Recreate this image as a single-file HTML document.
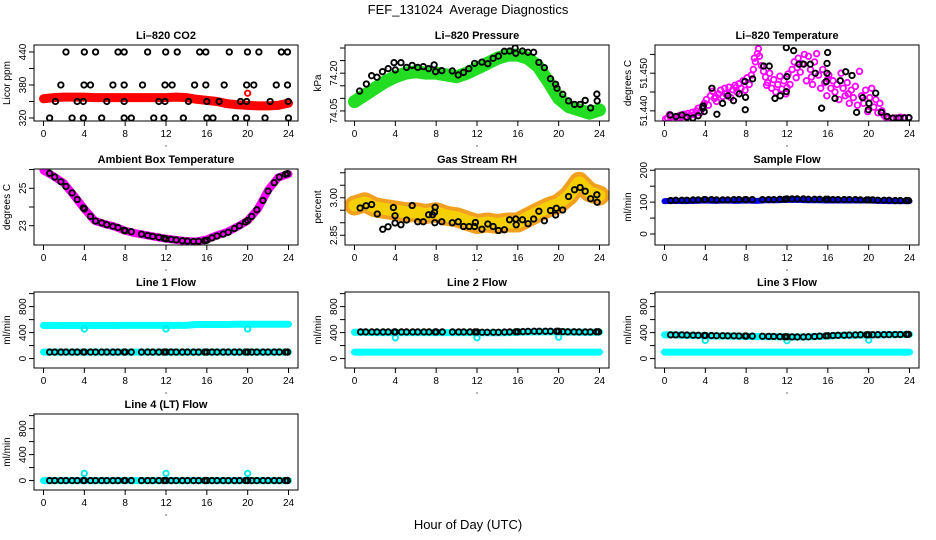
<!DOCTYPE html>
<html><head><meta charset="utf-8"><style>
html,body{margin:0;padding:0;background:#fff;}
svg{display:block;font-family:"Liberation Sans",sans-serif;}
</style></head><body>
<svg id="chart" width="936" height="540" viewBox="0 0 936 540" xmlns="http://www.w3.org/2000/svg">
<text x="468" y="14" font-size="13" text-anchor="middle">FEF_131024&#160; Average Diagnostics</text>
<text x="468" y="529" font-size="13" text-anchor="middle">Hour of Day (UTC)</text>
</svg>
<script>
// ---- shared data ----
const xTicks = [0,4,8,12,16,20,24];
const bandHours = [0,1,2,3,4,5,6,7,8,9,10,11,12,13,14,15,16,17,18,19,20,21,22,23,24];
const avgHours = [0.6,1.1,1.7,2.2,2.8,3.3,3.9,4.0,4.6,5.1,5.7,6.2,6.8,7.3,7.9,8.0,8.6,9.6,10.2,10.7,11.3,11.8,12.0,12.5,13.0,13.6,14.1,14.7,15.2,15.8,16.0,16.5,17.0,17.6,18.1,18.7,19.2,19.8,20.0,20.4,20.9,21.5,22.0,22.6,23.1,23.7,23.9];
const dipHours = [4,12,20];

// CO2
const co2Band = [355,357,358,358,358,357,357,357,357,357,357,357,357,358,357,354,352,350,346,344,343,342,342,343,347];
const co2Hours440 = [2.2,4.0,5.1,7.3,7.9,10.2,11.97,13.1,15.3,15.9,18.2,19.98,21.1,23.3,23.9];
const co2Hours380 = [1.7,3.97,4.6,6.8,7.9,9.7,11.9,12.6,14.8,15.9,17.7,19.9,20.6,22.8,23.9];
const co2Hours350 = [1.17,3.3,3.9,6.2,7.9,11.3,11.9,14.2,16,17.2,19.3,19.9,22.2,23.97];
const co2Hours320 = [0.6,2.8,3.9,5.7,7.9,8.6,10.8,11.8,13.7,16,16.6,18.8,19.9,21.7,24.0];

// Pressure
const presBand = [74.087,74.113,74.14,74.166,74.186,74.2,74.206,74.2,74.2,74.193,74.186,74.2,74.219,74.239,74.259,74.272,74.272,74.259,74.226,74.166,74.1,74.067,74.054,74.041,74.054];
const presHours = [0.5,1.16,1.68,2.2,2.74,3.3,3.87,4.0,4.55,5.1,5.65,6.2,6.74,7.26,7.8,7.94,8.55,9.58,10.16,10.68,11.2,11.77,12.48,13.06,13.58,14.1,14.68,15.2,15.74,15.8,16.45,17,17.55,18.06,18.6,19.2,19.7,19.84,20.4,20.97,21.55,22.1,22.6,23.13,23.74,23.77];
const presVals = [74.129,74.157,74.19,74.184,74.206,74.218,74.242,74.213,74.242,74.223,74.231,74.223,74.226,74.218,74.233,74.206,74.21,74.209,74.193,74.203,74.218,74.239,74.244,74.238,74.259,74.268,74.287,74.288,74.3,74.279,74.288,74.283,74.283,74.243,74.222,74.178,74.156,74.14,74.116,74.09,74.076,74.076,74.092,74.062,74.117,74.09];

// Li-820 temperature
const tempRawHours = [0.1,0.3,0.5,0.7,0.9,1.1,1.3,1.5,1.7,1.9,2.1,2.3,2.5,2.7,2.9,3.1,3.3,3.5,3.7,3.9,4.1,4.3,4.5,4.7,4.9,5.1,5.3,5.5,5.7,5.9,6.1,6.3,6.5,6.7,6.9,7.1,7.3,7.5,7.7,7.9,8.1,8.3,8.5,8.7,8.9,9.1,9.3,9.5,9.7,9.9,10.1,10.3,10.5,10.7,10.9,11.1,11.3,11.5,11.7,11.9,12.1,12.3,12.5,12.7,12.9,13.1,13.3,13.5,13.7,13.9,14.1,14.3,14.5,14.7,14.9,15.1,15.3,15.5,15.7,15.9,16.1,16.3,16.5,16.7,16.9,17.1,17.3,17.5,17.7,17.9,18.1,18.3,18.5,18.7,18.9,19.1,19.3,19.5,19.7,19.9,20.1,20.3,20.5,20.7,20.9,21.1,21.3,21.5,21.7,21.9,22.3,22.7,23.1,23.5,23.9,9.2,8.8,13.0,14.4,6.0,5.0,7.0,12.0,16.0,18.0,10.0];
const tempRawVals = [51.4378,51.4381,51.4390,51.4385,51.4379,51.4383,51.4380,51.4388,51.4384,51.4391,51.4386,51.4393,51.4388,51.4396,51.4390,51.4400,51.4407,51.4395,51.4412,51.4420,51.4430,51.4415,51.4440,51.4452,51.4433,51.4425,51.4445,51.4455,51.4438,51.4460,51.4448,51.4463,51.4435,51.4456,51.4468,51.4450,51.4472,51.4460,51.4480,51.4455,51.4488,51.4470,51.4495,51.4510,51.4530,51.4552,51.4545,51.4520,51.4505,51.4490,51.4475,51.4500,51.4460,51.4483,51.4450,51.4470,51.4492,51.4458,51.4480,51.4445,51.4498,51.4470,51.4510,51.4530,51.4488,51.4540,51.4503,51.4525,51.4550,51.4480,51.4545,51.4510,51.4470,51.4530,51.4552,51.4495,51.4460,51.4510,51.4475,51.4440,51.4495,51.4460,51.4480,51.4450,51.4470,51.4430,51.4500,51.4460,51.4440,51.4475,51.4420,51.4455,51.4435,51.4465,51.4415,51.4505,51.4440,51.4420,51.4455,51.4398,51.4435,51.4460,51.4410,51.4430,51.4395,51.4420,51.4400,51.4388,51.4383,51.4382,51.4380,51.4381,51.4383,51.4382,51.4381,51.4565,51.4540,51.4515,51.4490,51.4445,51.4438,51.4462,51.4462,51.4485,51.4445,51.4468];
const tempHours = [0.56,1.14,1.70,2.19,2.78,3.30,3.76,3.79,3.89,4.64,5.13,5.69,6.21,6.76,7.32,7.88,7.94,7.91,8.63,9.71,10.26,10.82,11.34,11.93,11.99,11.93,12.65,13.17,13.63,14.28,14.77,15.39,15.85,15.98,15.92,15.92,16.70,17.22,17.75,18.37,18.82,19.41,19.97,20.03,20.69,21.24,21.80,22.39,22.94,23.50,23.95];
const tempVals = [51.4389,51.4385,51.4389,51.4383,51.4381,51.4387,51.4407,51.4413,51.4398,51.4460,51.4391,51.4420,51.4440,51.4427,51.4445,51.4478,51.4436,51.4403,51.4485,51.4519,51.4519,51.4433,51.4440,51.4451,51.4491,51.4568,51.4560,51.4524,51.4524,51.4524,51.4500,51.4407,51.4478,51.4555,51.4526,51.4500,51.4433,51.4480,51.4504,51.4494,51.4396,51.4435,51.4403,51.4420,51.4447,51.4396,51.4385,51.4381,51.4381,51.4381,51.4382];

// Ambient
const ambBand = [25.95,25.64,25.27,24.6,23.9,23.27,23.09,22.95,22.73,22.6,22.5,22.4,22.31,22.24,22.18,22.16,22.27,22.49,22.67,22.95,23.27,23.9,24.9,25.58,25.76];
const ambVals = [25.8,25.6,25.35,25.1,24.75,24.4,23.95,23.9,23.5,23.25,23.15,23.05,22.97,22.9,22.75,22.73,22.68,22.55,22.48,22.43,22.38,22.33,22.3,22.27,22.24,22.2,22.18,22.16,22.17,22.2,22.22,22.35,22.45,22.55,22.65,22.85,23.0,23.2,23.28,23.5,23.85,24.35,24.85,25.3,25.6,25.75,25.78];

// RH
const rhBand = [2.969,2.982,2.962,2.955,2.949,2.942,2.942,2.935,2.942,2.928,2.922,2.908,2.895,2.901,2.895,2.901,2.901,2.922,2.942,2.962,2.976,3.009,3.064,3.023,3.009];
const rhHours = [0.55,1.13,1.68,2.23,2.77,3.29,3.81,3.97,3.97,4.55,5.1,5.65,6.19,6.74,7.26,7.65,7.84,7.9,7.87,8.55,9.58,10.16,10.68,11.23,11.77,11.84,12.48,13.06,13.58,14.1,14.68,15.19,15.8,15.84,16.45,17.0,17.55,18.06,18.6,19.2,19.7,19.77,20.39,20.97,21.55,22.1,22.6,23.13,23.74,23.77];
const rhVals = [2.959,2.968,2.973,2.935,2.874,2.884,2.961,2.928,2.899,2.892,2.911,2.969,2.904,2.904,2.932,2.932,2.942,2.962,2.9,2.904,2.9,2.904,2.885,2.885,2.885,2.901,2.874,2.895,2.885,2.869,2.872,2.912,2.915,2.892,2.912,2.896,2.915,2.946,2.908,2.949,2.931,2.958,2.951,3.005,3.032,3.041,3.026,2.996,3.012,2.982];

// Sample flow
const sampBand = [103,104,103,104,105,104,105,104,105,104,106,106,107,107,106,106,105,105,105,105,105,104,103,103,103];
const sampVals = [105,106,106,106,107,107,108,108,108,107,107,107,108,108,108,108,108,108,108,108,109,109,110,110,110,110,109,109,109,109,109,108,108,108,108,108,107,107,107,107,106,106,106,105,105,105,105];

// Line flows
const l1Upper = [510,512,510,510,510,510,510,510,512,512,512,512,512,512,512,525,525,525,525,528,528,528,528,528,528];
const l1Lower = [100,100,100,100,100,100,100,100,100,100,100,100,100,100,100,100,100,100,100,100,100,100,100,100,100];
const l1Vals = [100,100,100,100,100,100,100,100,100,100,100,100,100,100,100,100,100,100,100,100,100,100,100,100,100,100,100,100,100,100,100,100,100,100,100,100,100,100,100,100,100,100,100,100,100,100,100];
const l1Dips = [455,455,455];
const l2Upper = [405,405,400,400,400,400,400,400,400,400,400,400,400,398,398,400,405,410,412,412,412,408,405,405,408];
const l2Lower = [100,100,100,100,100,100,100,100,100,100,100,100,100,100,100,100,100,100,100,100,100,100,100,100,100];
const l2Vals = [410,410,410,410,410,410,410,410,410,410,410,410,410,410,410,410,410,410,410,410,410,410,410,405,405,405,405,408,410,412,412,415,418,420,420,420,420,420,420,415,412,412,410,410,410,412,412];
const l2Dips = [320,320,330];
const l3Upper = [365,365,360,355,350,348,348,345,342,340,338,336,334,333,335,340,348,355,360,362,365,365,368,370,372];
const l3Lower = [100,100,100,100,100,100,100,100,100,100,100,100,100,100,100,100,100,100,100,100,100,100,100,100,100];
const l3Vals = [365,365,365,362,360,358,356,356,354,352,352,350,350,348,347,347,346,344,342,340,338,336,336,334,333,333,335,340,345,350,352,355,358,360,362,364,366,366,367,367,368,368,369,370,370,372,373];
const l3Dips = [280,275,285];
const l4Band = [0,0,0,0,0,0,0,0,0,0,0,0,0,0,0,0,0,0,0,0,0,0,0,0,0];
const l4Vals = [0,0,0,0,0,0,0,0,0,0,0,0,0,0,0,0,0,0,0,0,0,0,0,0,0,0,0,0,0,0,0,0,0,0,0,0,0,0,0,0,0,0,0,0,0,0,0];
const l4Dips = [110,110,110];

const NS = 'http://www.w3.org/2000/svg';
const svg = document.getElementById('chart');
const colLeft = [34, 345, 655];
const rowTop = [45, 169, 292, 414];
const BW = 264, BH = 76, PAD = 9.5;

function mk(tag, attrs, parent) {
  const e = document.createElementNS(NS, tag);
  for (const k in attrs) e.setAttribute(k, attrs[k]);
  (parent || svg).appendChild(e);
  return e;
}

function panel(cfg) {
  const L = colLeft[cfg.col], T = rowTop[cfg.row];
  const g = mk('g', {});
  
  
  const xs = h => L + PAD + h * (BW - 2 * PAD) / 24;
  const ys = v => T + BH - (v - cfg.lo) / (cfg.hi - cfg.lo) * BH;
  const t = mk('text', {x: L + BW / 2, y: T - 6, 'font-size': 11, 'font-weight': 'bold', 'text-anchor': 'middle'}, g);
  t.textContent = cfg.title;
  
  
  const yl = mk('text', {x: 0, y: 0, 'font-size': 10, 'text-anchor': 'middle', transform: `translate(${L - 24},${T + BH / 2}) rotate(-90)`}, g);
  yl.textContent = cfg.ylab;
  
  
  const cp = mk('clipPath', {id: 'clip-' + cfg.name}, g);
  mk('rect', {x: L, y: T, width: BW, height: BH}, cp);
  const plot = mk('g', {'clip-path': `url(#clip-${cfg.name})`}, g);
  
  
  cfg.draw(plot, xs, ys);
  const box = mk('rect', {x: L, y: T, width: BW, height: BH, fill: 'none', stroke: '#000', 'stroke-width': 1}, g);
  
  
  xTicks.forEach(v => {
    const x = xs(v);
    mk('line', {x1: x, x2: x, y1: T + BH, y2: T + BH + 5, stroke: '#000'}, g);
    const tl = mk('text', {x: x, y: T + BH + 16, 'font-size': 10, 'text-anchor': 'middle'}, g);
    tl.textContent = v;
    
    
  });
  mk('circle', {cx: L + BW / 2, cy: T + BH + 25, r: 0.6, fill: '#000'}, g);
  cfg.yTicks.forEach((v, i) => {
    const y = ys(v);
    mk('line', {x1: L - 5, x2: L, y1: y, y2: y, stroke: '#000'}, g);
    if (cfg.yLabels[i] !== '') {
      const tl = mk('text', {x: 0, y: 0, 'font-size': 10, 'text-anchor': 'middle', transform: `translate(${L - 8},${y}) rotate(-90)`}, g);
      tl.textContent = cfg.yLabels[i];
      
      
    }
  });
}

function band(p, xs, ys, hours, vals, color, w, name) {
  const pl = mk('polyline', {points: hours.map((h, i) => xs(h) + ',' + ys(vals[i])).join(' '), fill: 'none', stroke: color, 'stroke-width': w, 'stroke-linecap': 'round', 'stroke-linejoin': 'round'}, p);
  
  
  return pl;
}
function dots(p, xs, ys, hours, vals, color, name, r, sw) {
  hours.forEach((h, i) => {
    const c = mk('circle', {cx: xs(h), cy: ys(vals[i]), r: r || 2.7, fill: 'none', stroke: color, 'stroke-width': sw || 1.9}, p);
    
    
  });
}
const fill = (arr, v) => arr.map(() => v);

const flowTicks = [0,200,400,600,800,1000];
const flowLabels = ['0','','400','','800',''];

panel({name: 'co2', title: 'Li\u2013820 CO2', ylab: 'Licor ppm', col: 0, row: 0, lo: 314.5, hi: 452.7,
  yTicks: [320,350,380,410,440], yLabels: ['320','','380','','440'],
  draw: (p, xs, ys) => {
    band(p, xs, ys, bandHours, co2Band, '#f00', 9, 'co2-raw-band');
    dots(p, xs, ys, [20], [365], '#f00', 'co2-raw-outlier');
    dots(p, xs, ys, co2Hours440, fill(co2Hours440, 440), '#000', 'co2-average-point');
    dots(p, xs, ys, co2Hours380, fill(co2Hours380, 380), '#000', 'co2-average-point');
    dots(p, xs, ys, co2Hours350, fill(co2Hours350, 350), '#000', 'co2-average-point');
    dots(p, xs, ys, co2Hours320, fill(co2Hours320, 320), '#000', 'co2-average-point');
  }});

panel({name: 'pressure', title: 'Li\u2013820 Pressure', ylab: 'kPa', col: 1, row: 0, lo: 74.010, hi: 74.312,
  yTicks: [74.05,74.10,74.15,74.20,74.25,74.30], yLabels: ['74.05','','','74.20','',''],
  draw: (p, xs, ys) => {
    band(p, xs, ys, bandHours, presBand, '#22dd22', 13, 'pressure-raw-band');
    dots(p, xs, ys, presHours, presVals, '#000', 'pressure-average-point');
  }});

panel({name: 'li820-temp', title: 'Li\u2013820 Temperature', ylab: 'degrees C', col: 2, row: 0, lo: 51.4373, hi: 51.4575,
  yTicks: [51.440,51.445,51.450,51.455], yLabels: ['51.440','','51.450',''],
  draw: (p, xs, ys) => {
    dots(p, xs, ys, tempRawHours, tempRawVals, '#f0f', 'temp-raw-point', 2.8, 1.8);
    dots(p, xs, ys, tempHours, tempVals, '#000', 'temp-average-point');
  }});

panel({name: 'ambient', title: 'Ambient Box Temperature', ylab: 'degrees C', col: 0, row: 1, lo: 21.97, hi: 26.03,
  yTicks: [23,24,25,26], yLabels: ['23','','25',''],
  draw: (p, xs, ys) => {
    band(p, xs, ys, bandHours, ambBand, '#f0f', 8, 'ambient-raw-band');
    dots(p, xs, ys, avgHours, ambVals, '#000', 'ambient-average-point');
  }});

panel({name: 'rh', title: 'Gas Stream RH', ylab: 'percent', col: 1, row: 1, lo: 2.811, hi: 3.115,
  yTicks: [2.85,2.90,2.95,3.00,3.05,3.10], yLabels: ['2.85','','','3.00','',''],
  draw: (p, xs, ys) => {
    band(p, xs, ys, bandHours, rhBand, '#f2a020', 20, 'rh-raw-band');
    band(p, xs, ys, bandHours, rhBand, '#f5d000', 12, 'rh-raw-band-core').setAttribute('stroke-dasharray', '2 2');
    dots(p, xs, ys, rhHours, rhVals, '#000', 'rh-average-point');
  }});

panel({name: 'sample-flow', title: 'Sample Flow', ylab: 'ml/min', col: 2, row: 1, lo: -34.5, hi: 204,
  yTicks: [0,50,100,150,200], yLabels: ['0','','100','','200'],
  draw: (p, xs, ys) => {
    band(p, xs, ys, bandHours, sampBand, '#0000f0', 6, 'sample-raw-band');
    dots(p, xs, ys, avgHours, sampVals, '#000', 'sample-average-point');
  }});

function flowPanel(name, title, col, row, upper, lower, vals, dips) {
  panel({name: name, title: title, ylab: 'ml/min', col: col, row: row, lo: -145, hi: 1025,
    yTicks: flowTicks, yLabels: flowLabels,
    draw: (p, xs, ys) => {
      if (upper) band(p, xs, ys, bandHours, upper, '#00ffff', 7, name + '-raw-band-high');
      band(p, xs, ys, bandHours, lower, '#00ffff', 7, name + '-raw-band-low');
      dots(p, xs, ys, dipHours, dips, '#00e8e8', name + '-raw-outlier');
      dots(p, xs, ys, avgHours, vals, '#000', name + '-average-point');
    }});
}
flowPanel('line1-flow', 'Line 1 Flow', 0, 2, l1Upper, l1Lower, l1Vals, l1Dips);
flowPanel('line2-flow', 'Line 2 Flow', 1, 2, l2Upper, l2Lower, l2Vals, l2Dips);
flowPanel('line3-flow', 'Line 3 Flow', 2, 2, l3Upper, l3Lower, l3Vals, l3Dips);
flowPanel('line4-flow', 'Line 4 (LT) Flow', 0, 3, null, l4Band, l4Vals, l4Dips);
</script>
</body></html>
